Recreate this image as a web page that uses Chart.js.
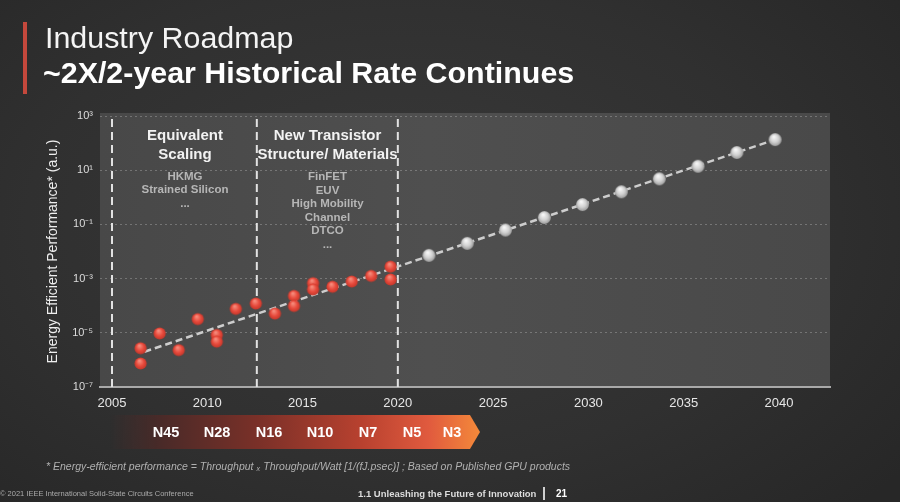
<!DOCTYPE html>
<html><head><meta charset="utf-8">
<script src="https://cdn.jsdelivr.net/npm/chart.js@4"></script>
<style>
html,body{margin:0;padding:0;}
body{width:900px;height:502px;overflow:hidden;background:radial-gradient(ellipse 70% 80% at 45% 45%, #393939 0%, #303030 60%, #272727 100%);font-family:"Liberation Sans",Arial,sans-serif;}
#wrap{position:relative;width:900px;height:502px;}
#c{position:absolute;left:0;top:0;}
.t{position:absolute;white-space:nowrap;line-height:1;transform:translate(-50%,-50%);}
.t.l{transform:translate(0,-50%);}
#bar{position:absolute;left:23px;top:22px;width:4px;height:72px;background:#c4483c;}
#chev{position:absolute;left:110px;top:415px;width:370px;height:34px;
 clip-path:polygon(0 0,360px 0,100% 50%,360px 100%,0 100%);
 background:linear-gradient(90deg,rgba(50,40,40,0) 0%,#4a2a28 14%,#7a3028 40%,#b8412f 68%,#e05a3e 86%,#f4893a 100%);}
#vsep{position:absolute;left:543px;top:487px;width:2px;height:13px;background:#cfcfcf;}
</style></head><body>
<div id="wrap"><canvas id="c" width="900" height="502"></canvas>
<div id="bar"></div>
<div id="chev"></div>
<div id="vsep"></div>
</div>
<script>
// ---- data ----
const xTickYears = [2005, 2010, 2015, 2020, 2025, 2030, 2035, 2040];
const yTickValues = [1e-7, 1e-5, 1e-3, 1e-1, 1e1, 1e3];
const yTickLabels = ['10\u207B\u2077', '10\u207B\u2075', '10\u207B\u00B3', '10\u207B\u00B9', '10\u00B9', '10\u00B3'];

const pastYears  = [2006.5, 2006.5, 2007.5, 2008.5, 2009.5, 2010.5, 2010.5, 2011.5, 2012.55, 2013.55, 2014.55, 2014.55, 2015.55, 2015.55, 2016.57, 2017.58, 2018.6, 2019.62, 2019.62];
const pastValues = [2.7e-6, 7.4e-7, 9.5e-6, 2.3e-6, 3.2e-5, 8.3e-6, 4.7e-6, 7.6e-5, 1.2e-4, 5.1e-5, 2.3e-4, 9.8e-5, 6.8e-4, 4.0e-4, 5.0e-4, 7.8e-4, 1.26e-3, 2.75e-3, 9.3e-4];

const futureYears  = [2021.63, 2023.64, 2025.65, 2027.69, 2029.69, 2031.73, 2033.72, 2035.75, 2037.79, 2039.8];
const futureValues = [7.2e-3, 2.0e-2, 6.2e-2, 0.18, 0.54, 1.6, 4.8, 14, 45, 135];

const trendYears  = [2006.7, 2039.8];
const trendValues = [2.0e-6, 135];

const eraBoundaryYears = [2005, 2012.6, 2020];

const nodeNames = ['N45', 'N28', 'N16', 'N10', 'N7', 'N5', 'N3'];

// ---- helpers ----
function pts(xs, ys){ return xs.map((x,i)=>({x:x, y:ys[i]})); }
function sphere(r, c0, c1, c2){
  const s = Math.ceil(2*r+2); const cv = document.createElement('canvas');
  cv.width = cv.height = s; const g = cv.getContext('2d'); const cx = s/2;
  const grd = g.createRadialGradient(cx-r*0.2, cx-r*0.45, r*0.1, cx, cx, r*1.05);
  grd.addColorStop(0, c0); grd.addColorStop(0.55, c1); grd.addColorStop(1, c2);
  g.fillStyle = grd; g.beginPath(); g.arc(cx, cx, r, 0, Math.PI*2); g.fill();
  return cv;
}
const redBall = sphere(6.1, '#f68b7c', '#e84a3c', '#bf3529');
const grayBall = sphere(6.5, '#f6f6f6', '#d0d0d0', '#979797');

const wrap = document.getElementById('wrap');
function label(text, x, y, css, left){
  const d = document.createElement('div');
  d.className = 't' + (left ? ' l' : '');
  d.textContent = text; d.style.left = x + 'px'; d.style.top = y + 'px';
  d.style.cssText += css; wrap.appendChild(d); return d;
}

const bgPlugin = {
  id: 'plotBg',
  beforeDraw(chart){
    const {ctx, chartArea:a} = chart;
    const g = ctx.createLinearGradient(a.left, 0, a.right, 0);
    g.addColorStop(0, '#484848'); g.addColorStop(0.45, '#4f4f4f'); g.addColorStop(1, '#494949');
    ctx.save(); ctx.fillStyle = g; ctx.fillRect(a.left, a.top - 3, a.right - a.left, a.bottom - a.top + 3); ctx.restore();
  }
};

const datasets = [];
eraBoundaryYears.forEach(yr => datasets.push({
  data: [{x:yr, y:1e-7}, {x:yr, y:1e3}], showLine:true, borderColor:'#e2e2e2', borderWidth:2,
  borderDash:[8,5], pointRadius:0, order:10
}));
datasets.push({ data: pts(trendYears, trendValues), showLine:true, borderColor:'#cdcdcd', borderWidth:2.5,
  borderDash:[7,4], pointRadius:0, order:5 });
datasets.push({ data: pts(pastYears, pastValues), pointStyle: redBall, pointRadius:6, order:1 });
datasets.push({ data: pts(futureYears, futureValues), pointStyle: grayBall, pointRadius:6, order:1 });

new Chart(document.getElementById('c'), {
  type: 'scatter',
  data: { datasets },
  plugins: [bgPlugin],
  options: {
    responsive:false, animation:false, devicePixelRatio:1,
    layout: { padding: {left:41, right:70, top:116, bottom:0} },
    plugins: { legend:{display:false}, tooltip:{enabled:false} },
    scales: {
      x: {
        type:'linear', min:2004.37, max:2042.68,
        afterBuildTicks: s => { s.ticks = xTickYears.map(v => ({value:v})); },
        afterFit: s => { s.height = 115; },
        ticks: { color:'#e6e6e6', font:{family:'Liberation Sans', size:13}, padding:9, callback: v => String(v) },
        grid: { display:false, drawTicks:false },
        border: { display:true, color:'#a9a9a9', width:2 }
      },
      y: {
        type:'logarithmic', min:1e-7, max:1e3,
        afterBuildTicks: s => { s.ticks = yTickValues.map(v => ({value:v})); },
        afterFit: s => { s.width = 59; },
        ticks: { color:'#dcdcdc', font:{family:'Liberation Sans', size:11}, padding:7,
          callback: v => { const i = yTickValues.findIndex(t => Math.abs(Math.log10(t) - Math.log10(v)) < 0.01); return i >= 0 ? yTickLabels[i] : ''; } },
        grid: { drawTicks:false, lineWidth:1,
          color: c => (c.tick && c.tick.value < 1.5e-7) ? 'rgba(0,0,0,0)' : 'rgba(255,255,255,0.24)' },
        border: { display:false, dash:[2,3] },
        title: { display:true, text:'Energy Efficient Performance* (a.u.)', color:'#eeeeee',
          font:{family:'Liberation Sans', size:14}, padding:{top:4, bottom:4} }
      }
    }
  }
});

// ---- text overlays ----
label('Industry Roadmap', 45, 37, 'font-size:30.4px;color:#f4f4f4;', true);
label('~2X/2-year Historical Rate Continues', 43, 72, 'font-size:30.4px;font-weight:bold;color:#ffffff;', true);

const hdr = 'font-size:15px;font-weight:bold;color:#f2f2f2;';
const sub = 'font-size:11.5px;font-weight:bold;color:#b6b6b6;';
label('Equivalent', 185, 134, hdr); label('Scaling', 185, 153, hdr);
['HKMG', 'Strained Silicon', '...'].forEach((t,i) => label(t, 185, 177 + i*13.3, sub));
label('New Transistor', 327.5, 134, hdr); label('Structure/ Materials', 327.5, 153, hdr);
['FinFET', 'EUV', 'High Mobility', 'Channel', 'DTCO', '...'].forEach((t,i) => label(t, 327.5, 177 + i*13.5, sub));

const nodeX = [166, 217, 269, 320, 368, 412, 452];
nodeNames.forEach((n,i) => label(n, nodeX[i], 432, 'font-size:14.5px;font-weight:bold;color:#ffffff;'));

label('* Energy-efficient performance = Throughput \u2093 Throughput/Watt [1/(fJ.psec)] ; Based on Published GPU products', 46, 466,
  'font-size:10.5px;font-style:italic;color:#b0b0b0;', true);
label('\u00A9 2021 IEEE International Solid-State Circuits Conference', 0, 494, 'font-size:7.5px;color:#aaaaaa;', true);
label('1.1 Unleashing the Future of Innovation', 358, 494, 'font-size:9.5px;font-weight:bold;color:#dddddd;', true);
label('21', 556, 494, 'font-size:10px;font-weight:bold;color:#ffffff;', true);
</script>
</body></html>
